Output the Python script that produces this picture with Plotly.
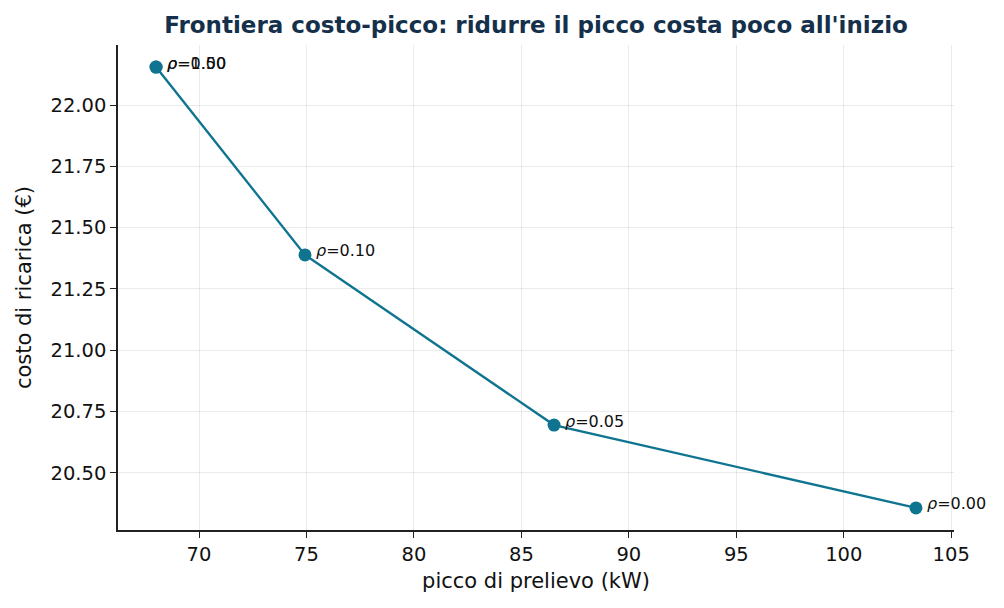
import plotly.graph_objects as go

rho = [0.00, 0.05, 0.10, 0.50, 1.00]
peak_kw = [103.36, 86.52, 74.93, 68.0, 68.0]
cost_eur = [20.357, 20.695, 21.389, 22.155, 22.155]

order = sorted(range(len(rho)), key=lambda i: peak_kw[i])

color = "#0f7490"

fig = go.Figure()
fig.add_trace(go.Scatter(
    x=[peak_kw[i] for i in order],
    y=[cost_eur[i] for i in order],
    mode="lines+markers",
    line=dict(color=color, width=2.4),
    marker=dict(color=color, size=13),
    hoverinfo="skip",
    showlegend=False,
))

for r, x, y in zip(rho, peak_kw, cost_eur):
    fig.add_annotation(
        x=x, y=y, text=f"<i>ρ</i>={r:.2f}",
        showarrow=False, xanchor="left", yanchor="middle",
        xshift=9, yshift=4,
        font=dict(size=16, color="#111111"),
    )

axis_common = dict(
    showline=True, linecolor="#222222", linewidth=1.5,
    ticks="outside", ticklen=6, tickwidth=1.2, tickcolor="#222222",
    showgrid=True, gridcolor="rgba(0,0,0,0.08)", gridwidth=1,
    zeroline=False, mirror=False,
    tickfont=dict(size=19.5, color="#111111"),
)

# window has an 8px body margin, so margins are shifted to compensate
fig.update_layout(
    width=1004, height=608,
    paper_bgcolor="white", plot_bgcolor="white",
    font=dict(family="DejaVu Sans", color="#111111"),
    margin=dict(l=110, r=58, t=37, b=86),
    title=dict(
        text="<b>Frontiera costo-picco: ridurre il picco costa poco all'inizio</b>",
        x=0.5, xref="paper", xanchor="center", y=1 - 17 / 608, yanchor="middle",
        font=dict(size=23, color="#14304a"),
    ),
    xaxis=dict(
        axis_common, range=[66.23, 105.13], tickvals=[70, 75, 80, 85, 90, 95, 100, 105],
        title=dict(text="picco di prelievo (kW)", font=dict(size=21), standoff=8),
    ),
    yaxis=dict(
        axis_common, range=[20.267, 22.245],
        tickvals=[20.50, 20.75, 21.00, 21.25, 21.50, 21.75, 22.00], tickformat=".2f",
        title=dict(text="costo di ricarica (€)", font=dict(size=21), standoff=13),
    ),
)

fig.write_html("out.html")
